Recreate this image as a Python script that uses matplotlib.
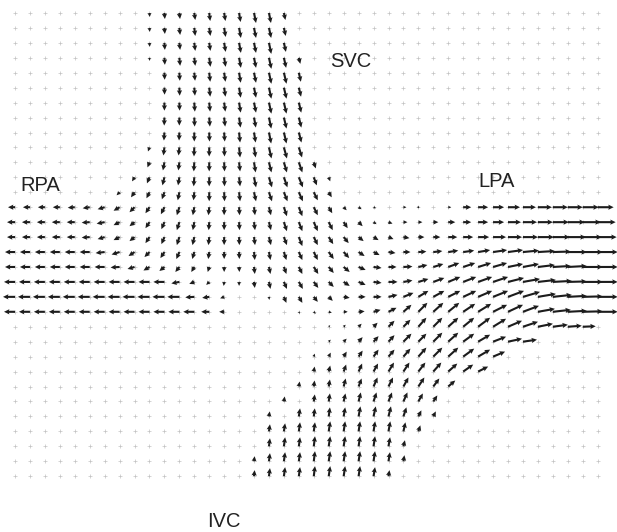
import numpy as np
import matplotlib
matplotlib.use("Agg")
import matplotlib.pyplot as plt

# measurement grid (one cell = 14.94 px in the picture)
N_ROWS = 32
N_COLS = 40
STEP = 14.94

# velocity readings in picture pixels, u to the right, v upwards
# SVC inflow: rows 0-12, columns 7-21
svc_row0, svc_col0 = 0, 7
svc_u = [
    [0, 0, 0.3, 0.5, 0.7, 1.0, 1.0, 1.3, 1.5, 2.0, 2.0, 1.5, 0, 0, 0],
    [0, 0, 0.3, 0.5, 0.8, 1.0, 1.2, 1.5, 1.8, 2.0, 2.2, 1.8, 0, 0, 0],
    [0, 0, 0.3, 0.5, 0.8, 1.0, 1.2, 1.5, 1.8, 2.0, 2.3, 2.0, 0, 0, 0],
    [0, 0, 0.2, 0.5, 0.8, 1.0, 1.2, 1.5, 1.8, 2.0, 2.4, 2.2, 1.5, 0, 0],
    [0, 0, 0, 0.3, 0.5, 0.8, 1.0, 1.3, 1.6, 2.0, 2.4, 2.6, 2.0, 0, 0],
    [0, 0, 0, 0.2, 0.4, 0.7, 1.0, 1.3, 1.6, 2.0, 2.4, 2.6, 2.2, 0, 0],
    [0, 0, 0, 0, 0.3, 0.6, 0.9, 1.2, 1.6, 2.0, 2.4, 2.6, 2.4, 0, 0],
    [0, 0, 0, -0.2, 0, 0.4, 0.7, 1.0, 1.4, 1.8, 2.3, 2.6, 2.5, 0, 0],
    [0, 0, 0, -0.5, -0.3, 0, 0.3, 0.6, 1.0, 1.6, 2.2, 2.6, 2.6, 0, 0],
    [0, 0, -1.5, -1.0, -0.8, -0.3, 0, 0.4, 1.0, 1.6, 2.5, 3.0, 3.2, 0, 0],
    [0, 0, -2.0, -1.5, -1.0, -0.5, 0, 0.4, 1.0, 1.6, 2.5, 3.0, 3.5, 2.0, 0],
    [0, -2.5, -2.5, -2.0, -1.3, -0.6, 0, 0.4, 1.0, 2.0, 3.0, 3.5, 4.0, 3.0, 1.5],
    [-3.0, -3.5, -3.0, -2.5, -1.6, -0.8, 0, 0.4, 1.0, 2.0, 3.0, 3.6, 4.0, 4.0, 3.0],
]
svc_v = [
    [0, 0, -4, -6, -6, -7, -8, -8, -9, -10, -10, -7, 0, 0, 0],
    [0, 0, -4, -6, -7, -8, -8, -9, -10, -10, -10, -8, 0, 0, 0],
    [0, 0, -4, -7, -7, -8, -8, -9, -10, -10, -11, -9, 0, 0, 0],
    [0, 0, -3, -7, -8, -8, -9, -9, -10, -10, -11, -10, -6, 0, 0],
    [0, 0, 0, -7, -8, -8, -9, -9, -10, -10, -11, -11, -9, 0, 0],
    [0, 0, 0, -7, -8, -8, -9, -9, -10, -10, -11, -11, -9, 0, 0],
    [0, 0, 0, -8, -8, -9, -9, -9, -10, -10, -11, -11, -10, 0, 0],
    [0, 0, 0, -8, -8, -9, -9, -9, -10, -10, -11, -11, -10, 0, 0],
    [0, 0, 0, -8, -8, -9, -9, -9, -10, -10, -11, -11, -10, 0, 0],
    [0, 0, -4, -8, -8, -9, -9, -9, -10, -10, -11, -11, -10, 0, 0],
    [0, 0, -5, -8, -8, -9, -9, -9, -9, -10, -10, -10, -10, -6, 0],
    [0, -4, -6, -8, -8, -9, -9, -9, -9, -10, -10, -10, -10, -8, -4],
    [-3, -5, -6, -7, -8, -8, -9, -9, -9, -9, -9, -9, -9, -8, -5],
]

# pulmonary artery band (RPA to the left, LPA to the right): rows 13-21, all columns
pa_row0, pa_col0 = 13, 0
pa_u = [
    [-7, -7, -7, -7, -7, -7, -7, -6, -5, -4, -3.5, -2.5, -1.5, -0.8, 0, 0.5, 1, 2, 3, 3.5,
     4, 3.5, 3, 3, 2.5, 0, 3, 2, 0, 3, 8, 10, 11, 12, 13, 14, 15, 15, 16, 16],
    [-8, -8, -8, -8, -8, -8, -8, -6, -5, -4, -3, -2.5, -1.5, -0.5, 0, 0.5, 1, 2, 3, 3.5,
     4, 4, 4, 4, 3, 4, 4, 4, 5, 7, 8, 10, 11, 13, 14, 15, 16, 17, 18, 18],
    [-8, -8, -8, -8, -8, -8, -7, -6, -5, -4, -3, -2.5, -1.8, -0.8, 0, 0.3, 1, 2, 3, 3.5,
     4, 4.5, 5, 5, 5, 5, 6, 6, 7, 9, 10, 11, 13, 14, 15, 16, 17, 18, 19, 19],
    [-10, -10, -10, -10, -10, -10, -9, -8, -6, -5, -4, -3, -2, -1, 0, 0.3, 0.8, 1.5, 2.5, 3.5,
     4, 5, 5.5, 6, 6, 7, 7, 8, 9, 10, 11, 12, 14, 15, 16, 17, 18, 19, 20, 20],
    [-10, -10, -10, -10, -10, -10, -10, -9, -7, -6, -5, -4, -3, -1.5, 0, 0.3, 0.8, 1.5, 2.5, 3.5,
     4.5, 5, 6, 7, 8, 8, 9, 9, 10, 11, 12, 13, 14, 15, 16, 17, 18, 19, 20, 20],
    [-11, -11, -11, -11, -11, -11, -11, -11, -11, -11, -11, -8, -5, -3, -0.5, 0, 0.8, 1.5, 3, 4,
     4.5, 5, 6, 7, 8, 9, 9, 10, 11, 12, 13, 14, 15, 16, 17, 18, 19, 19, 20, 20],
    [-12, -12, -12, -12, -12, -12, -12, -12, -12, -12, -12, -12, -9, -7, -4, 0, 0, 0.3, 2.5, 3.5,
     4, 4, 6, 7, 8, 9, 10, 10, 11, 12, 13, 14, 15, 16, 17, 18, 19, 19, 20, 20],
    [-11, -11, -11, -11, -11, -11, -11, -11, -11, -11, -11, -11, -11, -8, -5, 0, 0, 0, 0, 1,
     2, 3, 4, 6, 7, 8, 8, 9, 10, 11, 12, 13, 14, 15, 16, 17, 18, 19, 20, 20],
    [0, 0, 0, 0, 0, 0, 0, 0, 0, 0, 0, 0, 0, 0, 0, 0, 0, 0, 0, 0,
     0, 1.5, 2, 3, 4, 6, 7, 8, 9, 10, 11, 12, 13, 14, 15, 15, 15, 14, 13, 0],
]
pa_v = [
    [0, 0, 0, 0, -0.5, -1, -2, -3.5, -5, -6, -7, -8, -8, -8, -8, -8, -8, -8, -9, -9,
     -8, -6, -3, -2, -1, 0, 0, 0, 0, 0, 0, 0, 0, 0, 0, 0, 0, 0, 0, 0],
    [0, 0, 0, 0, 0, -0.5, -1.5, -3, -4, -6, -7, -8, -8, -8, -8, -8, -8, -8, -9, -9,
     -9, -8, -6, -4, -2, -1.5, 0, 0, 0, 0, 0, 0, 0, 0, 0, 0, 0, 0, 0, 0],
    [0, 0, 0, 0, 0, -0.5, -2, -3, -4, -6, -7, -8, -8, -8, -8, -8, -8, -8, -8, -9,
     -8, -7, -6, -4, -3, -2, -1, 0, 0, 0, 0, 0, 0, 0, 0, 0, 0, 0, 0, 0],
    [0, 0, 0, 0, 0, 0, -1, -2.5, -4, -5, -6, -7, -7, -7, -7, -7, -8, -8, -8, -8,
     -8, -7, -6, -4, -3, -1, 0, 0.5, 1, 1.5, 1.5, 2, 2, 2, 1.5, 1, 0.5, 0, 0, 0],
    [0, 0, 0, 0, 0, 0, 0, -0.5, -2, -3.5, -4, -5, -5, -5, -5, -5, -7, -7, -7, -7,
     -7, -6, -5, -3, -1, 0, 0.5, 2, 3, 4, 4, 4, 4, 3, 3, 2, 1, 1, 0, 0],
    [0, 0, 0, 0, 0, 0, 0, 0, 0, 0, 0, -1.5, -2, -3, -4, -4, -6, -7, -7, -7,
     -6, -5, -4, -3, -1, 0, 1.5, 3, 4, 5, 5, 5, 5, 4, 3, 2, 1, 0.5, 0, 0],
    [0, 0, 0, 0, 0, 0, 0, 0, 0, 0, 0, 0, -0.5, -1, -1.5, 0, 0, -3, -6, -6,
     -5, -4, -1, 0, 0, 2, 4, 6, 6, 6, 6, 6, 6, 6, 5, 3, 2, 1, 0.5, 0],
    [0, 0, 0, 0, 0, 0, 0, 0, 0, 0, 0, 0, 0, 0, 0, 0, 0, 0, 0, -2,
     -2, -1, 0, 0.5, 2, 4, 7, 9, 9, 9, 8, 8, 7, 7, 6, 3, 2, 1, 0.5, 0],
    [0, 0, 0, 0, 0, 0, 0, 0, 0, 0, 0, 0, 0, 0, 0, 0, 0, 0, 0, 0,
     0, 1.5, 2, 3, 4, 6, 7, 9, 9, 9, 9, 9, 8, 6, 5, 3, 2, 1, 0.5, 0],
]

# IVC inflow: rows 22-31, columns 16-35
ivc_row0, ivc_col0 = 22, 16
ivc_u = [
    [0, 0, 0, 0, 0, 2, 3, 4, 5, 6, 8, 8, 9, 10, 11, 12, 13, 14, 14, 0],
    [0, 0, 0, 0, 1, 2, 3, 4, 5, 6, 7, 8, 9, 10, 11, 12, 12, 0, 0, 0],
    [0, 0, 0, 0, 0.8, 1.5, 2.5, 3.5, 4.5, 5.5, 6, 7, 8, 9, 10, 10, 0, 0, 0, 0],
    [0, 0, 0, 0.8, 0.8, 1.2, 2, 3, 4, 4.5, 5, 6, 6, 7, 0, 0, 0, 0, 0, 0],
    [0, 0, 0.8, 0, 1, 1.2, 1.8, 2.2, 3, 3.5, 4, 4.5, 4, 0, 0, 0, 0, 0, 0, 0],
    [0, 0.8, 0, 1.2, 1, 1.2, 1.5, 1.8, 2.2, 2.5, 3, 3, 2.5, 0, 0, 0, 0, 0, 0, 0],
    [0, 1, 1.2, 1.2, 1.2, 1.5, 1.5, 1.5, 1.6, 1.8, 2, 2, 0, 0, 0, 0, 0, 0, 0, 0],
    [0, 1, 1.2, 1.2, 1.2, 1.5, 1.5, 1.5, 1.5, 1.6, 1.5, 0, 0, 0, 0, 0, 0, 0, 0, 0],
    [0.6, 1, 1.2, 1.2, 1.2, 1.5, 1.5, 1.5, 1.5, 1.5, 1, 0, 0, 0, 0, 0, 0, 0, 0, 0],
    [0.6, 1, 1.2, 1.2, 1.2, 1.5, 1.5, 1.5, 1.5, 1, 0, 0, 0, 0, 0, 0, 0, 0, 0, 0],
]
ivc_v = [
    [0, 0, 0, 0, 0, 2, 3, 4.5, 5.5, 6.5, 8, 8, 9, 9, 8, 7, 5, 3, 2, 0],
    [0, 0, 0, 0, 3, 4, 5, 6, 7, 7, 8, 9, 9, 9, 8, 7, 5, 0, 0, 0],
    [0, 0, 0, 0, 5, 6, 7, 8, 8, 9, 9, 9, 9, 8, 7, 5, 0, 0, 0, 0],
    [0, 0, 0, 5, 6, 7, 8, 8, 9, 9, 9, 9, 8, 6, 0, 0, 0, 0, 0, 0],
    [0, 0, 5, 0, 7, 8, 8, 9, 9, 9, 9, 8, 6, 0, 0, 0, 0, 0, 0, 0],
    [0, 5, 0, 8, 8, 9, 9, 10, 10, 10, 9, 6, 5, 0, 0, 0, 0, 0, 0, 0],
    [0, 7, 8, 9, 9, 10, 10, 10, 10, 10, 9, 6, 0, 0, 0, 0, 0, 0, 0, 0],
    [0, 8, 9, 9, 10, 10, 10, 10, 10, 9, 6, 0, 0, 0, 0, 0, 0, 0, 0, 0],
    [5, 8, 9, 9, 10, 10, 10, 10, 10, 9, 6, 0, 0, 0, 0, 0, 0, 0, 0, 0],
    [6, 8, 9, 9, 10, 10, 10, 10, 9, 6, 0, 0, 0, 0, 0, 0, 0, 0, 0, 0],
]

vessel_names = ["SVC", "RPA", "LPA", "IVC"]


def main():
    U = np.zeros((N_ROWS, N_COLS))
    V = np.zeros((N_ROWS, N_COLS))
    blocks = [(svc_row0, svc_col0, svc_u, svc_v),
              (pa_row0, pa_col0, pa_u, pa_v),
              (ivc_row0, ivc_col0, ivc_u, ivc_v)]
    for r0, c0, bu, bv in blocks:
        bu = np.array(bu, dtype=float)
        bv = np.array(bv, dtype=float)
        nr, nc = bu.shape
        U[r0:r0 + nr, c0:c0 + nc] = bu
        V[r0:r0 + nr, c0:c0 + nc] = bv

    cols, rows = np.meshgrid(np.arange(N_COLS), np.arange(N_ROWS))
    X = cols
    Y = -rows
    moving = np.hypot(U, V) > 0

    fig = plt.figure(figsize=(6.17, 5.32), dpi=100)
    ax = fig.add_axes([0, 0, 1, 1])

    # measurement points
    ax.scatter(X, Y, marker='+', s=5, linewidths=0.5, c='#c2c2c2', zorder=1)
    # velocity vectors: thin shafts, small heads
    ax.quiver(X[moving], Y[moving], U[moving], V[moving],
              angles='xy', scale_units='xy', scale=STEP,
              width=0.0034, headwidth=2.5, headlength=2.6, headaxislength=2.3,
              color='#1c1c1c', zorder=2)

    ax.set_xlim(-15 / STEP, (617 - 15) / STEP)
    ax.set_ylim(-(532 - 13) / STEP, 13 / STEP)
    ax.axis('off')

    # vessel labels (pixel positions of left/baseline)
    label_px = [(330, 67), (20, 191), (478, 187), (207, 527)]
    for name, (px, py) in zip(vessel_names, label_px):
        fig.text(px / 617, 1 - py / 532, name, fontsize=14.5, color='#222222',
                 family=['Liberation Sans', 'DejaVu Sans'], ha='left', va='baseline')

    fig.savefig("out.png", dpi=100)


if __name__ == '__main__':
    main()
